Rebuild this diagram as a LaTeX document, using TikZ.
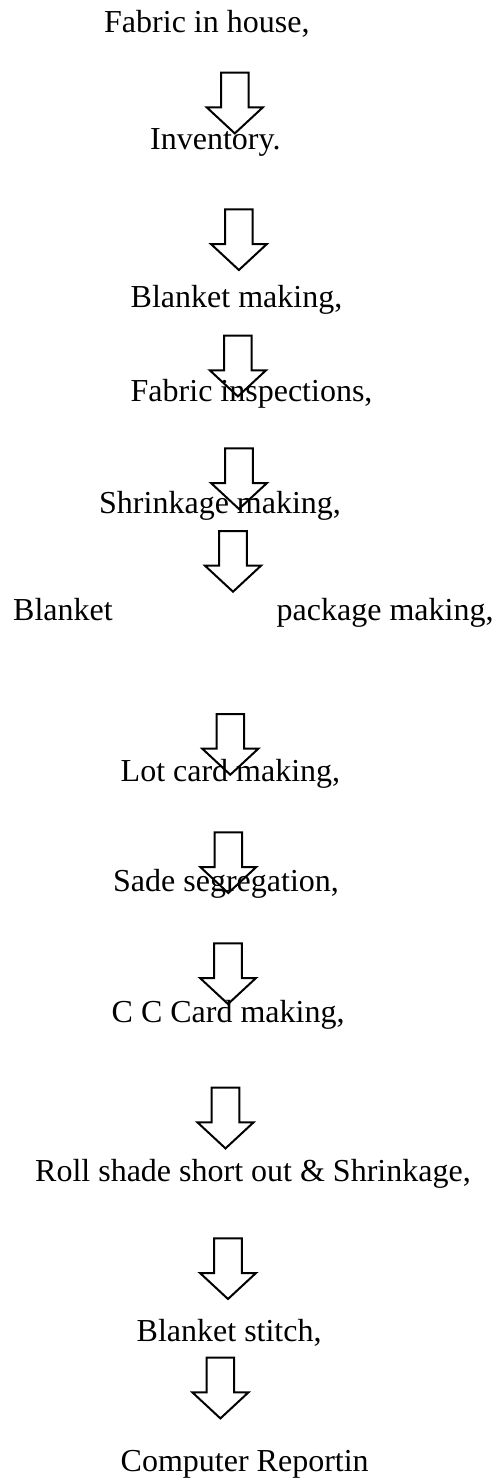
\documentclass[tikz,border=0pt]{standalone}
\usepackage{fontspec}
\setmainfont{Liberation Serif}
\begin{document}
\begin{tikzpicture}[x=1pt,y=-1pt]
  \tikzset{
    steplabel/.style={anchor=base west, inner sep=0pt, font=\fontsize{32}{38}\selectfont},
    arrowline/.style={draw=black, line width=2pt, line join=miter},
    % hollow block arrow pointing down; origin = top centre of the shaft
    downarrow/.pic={
      \draw[arrowline] (-13.8,0) -- (13.8,0) -- (13.8,34.7) -- (28,34.7)
        -- (0,60.7) -- (-28,34.7) -- (-13.8,34.7) -- cycle;
    },
  }
  \useasboundingbox (0,0) rectangle (496,1483);

  % process steps
  \node[steplabel] (s1)  at (104,32)     {Fabric in house,};
  \node[steplabel] (s2)  at (150,149)    {Inventory.};
  \node[steplabel] (s3)  at (130.5,307.7){Blanket making,};
  \node[steplabel] (s4)  at (130.5,401.7){Fabric inspections,};
  \node[steplabel] (s5)  at (99,513.3)   {Shrinkage making,};
  \node[steplabel] (s6a) at (13,620)     {Blanket};
  \node[steplabel] (s6b) at (276.5,620)  {package making,};
  \node[steplabel] (s7)  at (120.5,781.7){Lot card making,};
  \node[steplabel] (s8)  at (113,891.7)  {Sade segregation,};
  \node[steplabel] (s9)  at (111.5,1022.7){C C Card making,};
  \node[steplabel] (s10) at (35,1181.7)  {Roll shade short out \& Shrinkage,};
  \node[steplabel] (s11) at (136.5,1341.7){Blanket stitch,};
  \node[steplabel] (s12) at (120.5,1471.7){Computer Reportin};

  % block arrows between the steps
  \pic (a1)  at (234.8,72.7)  {downarrow};
  \pic (a2)  at (238.9,209.3) {downarrow};
  \pic (a3)  at (237.9,335.7) {downarrow};
  \pic (a4)  at (239,448.3)   {downarrow};
  \pic (a5)  at (233,531)     {downarrow};
  \pic (a6)  at (230.3,714)   {downarrow};
  \pic (a7)  at (228.3,832.3) {downarrow};
  \pic (a8)  at (228,943.3)   {downarrow};
  \pic (a9)  at (225.5,1087.7){downarrow};
  \pic (a10) at (228,1238.3)  {downarrow};
  \pic (a11) at (220.4,1357.7){downarrow};
\end{tikzpicture}
\end{document}
